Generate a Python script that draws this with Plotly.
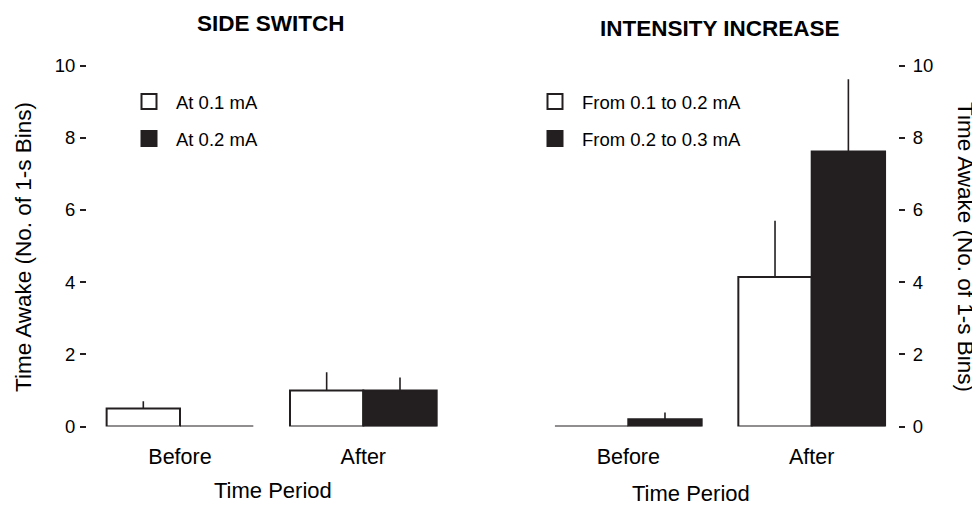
import plotly.graph_objects as go

periods = ["Before", "After"]

# Side switch panel
side_low = [0.5, 1.0]        # At 0.1 mA
side_low_err = [0.2, 0.5]
side_high = [0.0, 1.0]       # At 0.2 mA
side_high_err = [0.0, 0.36]

# Intensity increase panel
inc_low = [0.0, 4.14]        # From 0.1 to 0.2 mA
inc_low_err = [0.0, 1.56]
inc_high = [0.2, 7.62]       # From 0.2 to 0.3 mA
inc_high_err = [0.19, 2.0]

y_ticks = [0, 2, 4, 6, 8, 10]

OFF = 8                      # page body margin
W, H = 980 - OFF, 510 - OFF
BLACK = "#231f20"
FONT = "Liberation Sans, Arial, Helvetica, sans-serif"

def px(x):
    return (x - OFF) / W

def py(y):
    return 1 - (y - OFF) / H

fig = go.Figure()

def add_bar(name, y, err, fill, xaxis, yaxis, legend, group):
    fig.add_trace(go.Bar(
        x=periods, y=y, name=name,
        marker=dict(color=fill, line=dict(color=BLACK, width=2)),
        error_y=dict(type="data", symmetric=False, array=err,
                     arrayminus=[0] * len(err), color=BLACK, thickness=1.6, width=0),
        xaxis=xaxis, yaxis=yaxis, showlegend=False, legendgroup=group,
    ))
    # legend swatch
    fig.add_trace(go.Scatter(
        x=[None], y=[None], mode="markers", name=name,
        marker=dict(symbol="square", size=15, color=fill,
                    line=dict(color=BLACK, width=2)),
        xaxis=xaxis, yaxis=yaxis, legend=legend, legendgroup=group,
    ))

add_bar("At 0.1 mA", side_low, side_low_err, "white", "x", "y", "legend", "a")
add_bar("At 0.2 mA", side_high, side_high_err, BLACK, "x", "y", "legend", "b")
add_bar("From 0.1 to 0.2 mA", inc_low, inc_low_err, "white", "x2", "y2", "legend2", "c")
add_bar("From 0.2 to 0.3 mA", inc_high, inc_high_err, BLACK, "x2", "y2", "legend2", "d")

ydom = [py(426.5), py(65.5)]
xcommon = dict(showgrid=False, zeroline=False, showline=False, ticks="",
               tickfont=dict(family=FONT, size=21.5, color="black"),
               ticklabelstandoff=15, fixedrange=True, automargin=False)
ycommon = dict(range=[0, 10], tickvals=y_ticks, showgrid=False, zeroline=False,
               showline=False, ticks="outside", ticklen=6, tickwidth=2,
               tickcolor=BLACK, tickfont=dict(family=FONT, size=18.5, color="black"),
               domain=ydom, anchor="free", automargin=False, fixedrange=True)

legend_common = dict(font=dict(family=FONT, size=18.5, color="black"),
                     bgcolor="rgba(0,0,0,0)", itemwidth=44, tracegroupgap=10,
                     traceorder="grouped", xanchor="left", yanchor="top",
                     itemclick=False, itemdoubleclick=False)

ann_font = lambda s: dict(family=FONT, size=s, color="black")

fig.update_layout(
    template="none",
    width=W, height=H, margin=dict(l=0, r=0, t=0, b=0, autoexpand=False),
    paper_bgcolor="white", plot_bgcolor="white",
    barmode="group", bargap=0.2, bargroupgap=0,
    xaxis=dict(domain=[px(88.3), px(455)], anchor="y", **xcommon),
    xaxis2=dict(domain=[px(536.6), px(903.4)], anchor="y2", **xcommon),
    yaxis=dict(position=px(86), side="left", ticklabelstandoff=1, **ycommon),
    yaxis2=dict(position=px(898), side="right", ticklabelstandoff=4, **ycommon),
    legend=dict(x=px(122), y=py(83), **legend_common),
    legend2=dict(x=px(528), y=py(83), **legend_common),
    annotations=[
        dict(text="<b>SIDE SWITCH</b>", x=px(271), y=py(23.5), xref="paper", yref="paper",
             showarrow=False, font=ann_font(22.5), xanchor="center", yanchor="middle"),
        dict(text="<b>INTENSITY INCREASE</b>", x=px(720), y=py(28.5), xref="paper", yref="paper",
             showarrow=False, font=ann_font(22.5), xanchor="center", yanchor="middle"),
        dict(text="Time Period", x=px(272.5), y=py(490), xref="paper", yref="paper",
             showarrow=False, font=ann_font(22), xanchor="center", yanchor="middle"),
        dict(text="Time Period", x=px(691), y=py(493), xref="paper", yref="paper",
             showarrow=False, font=ann_font(22), xanchor="center", yanchor="middle"),
        dict(text="Time Awake (No. of 1-s Bins)", x=px(23), y=py(247), xref="paper", yref="paper",
             showarrow=False, textangle=-90, font=ann_font(22.5),
             xanchor="center", yanchor="middle"),
        dict(text="Time Awake (No. of 1-s Bins)", x=px(966), y=py(247), xref="paper", yref="paper",
             showarrow=False, textangle=90, font=ann_font(22.5),
             xanchor="center", yanchor="middle"),
    ],
)

fig.write_html("out.html")
